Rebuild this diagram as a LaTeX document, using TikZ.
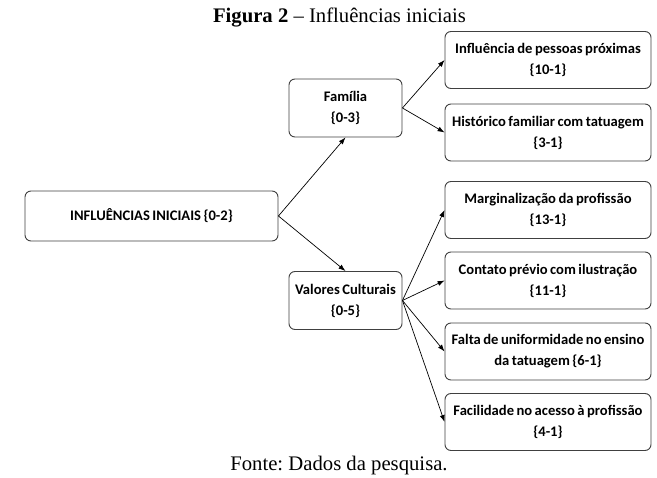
\documentclass[tikz,border=0pt]{standalone}
\usepackage{fontspec}
\setmainfont{Liberation Serif}
\newfontfamily\boxfont[WordSpace=0.75]{Carlito}
\usetikzlibrary{arrows.meta,positioning}
\frenchspacing

\begin{document}
\begin{tikzpicture}[x=1pt, y=-1pt,
  b/.style={rounded corners=6pt, draw=black!75, line width=0.9pt, fill=white, align=center,
            inner sep=2pt, font=\boxfont\bfseries\fontsize{14.6}{21}\selectfont},
  mid/.style={b, minimum width=113pt, minimum height=58pt},
  leaf/.style={b, minimum width=206pt, minimum height=57pt},
  captxt/.style={font=\fontsize{20.7}{22}\selectfont},
  ar/.style={-{Latex[length=7pt,width=5pt]}, line width=0.7pt, draw=black}]
\useasboundingbox (0,0) rectangle (657,478);
\node[captxt] (title) at (339.5,18) {\textbf{Figura 2} -- Influências iniciais};
\node[b, minimum width=253pt, minimum height=50pt] (root) at (151.5,216) {INFLUÊNCIAS INICIAIS \{0-2\}};
\node[mid] (fam) at (345.5,108) {Família\\\{0-3\}};
\node[mid] (val) at (345.5,300.5) {Valores Culturais\\\{0-5\}};
\node[leaf] (r1) at (548,60) {Influência de pessoas próximas\\\{10-1\}};
\node[leaf] (r2) at (548,132.5) {Histórico familiar com tatuagem\\\{3-1\}};
\node[leaf] (r3) at (548,210) {Marginalização da profissão\\\{13-1\}};
\node[leaf] (r4) at (548,280.5) {Contato prévio com ilustração\\\{11-1\}};
\node[leaf] (r5) at (548,351.5) {Falta de uniformidade no ensino\\da tatuagem \{6-1\}};
\node[leaf] (r6) at (548,422) {Facilidade no acesso à profissão\\\{4-1\}};
\node[captxt] (src) at (339,466) {Fonte: Dados da pesquisa.};
\draw[ar] (root.east) -- (fam.south);
\draw[ar] (root.east) -- (val.north);
\draw[ar] (fam.east) -- (r1.west);
\draw[ar] (fam.east) -- (r2.west);
\draw[ar] (val.east) -- (r3.west);
\draw[ar] (val.east) -- (r4.west);
\draw[ar] (val.east) -- (r5.west);
\draw[ar] (val.east) -- (r6.west);
\end{tikzpicture}
\end{document}
